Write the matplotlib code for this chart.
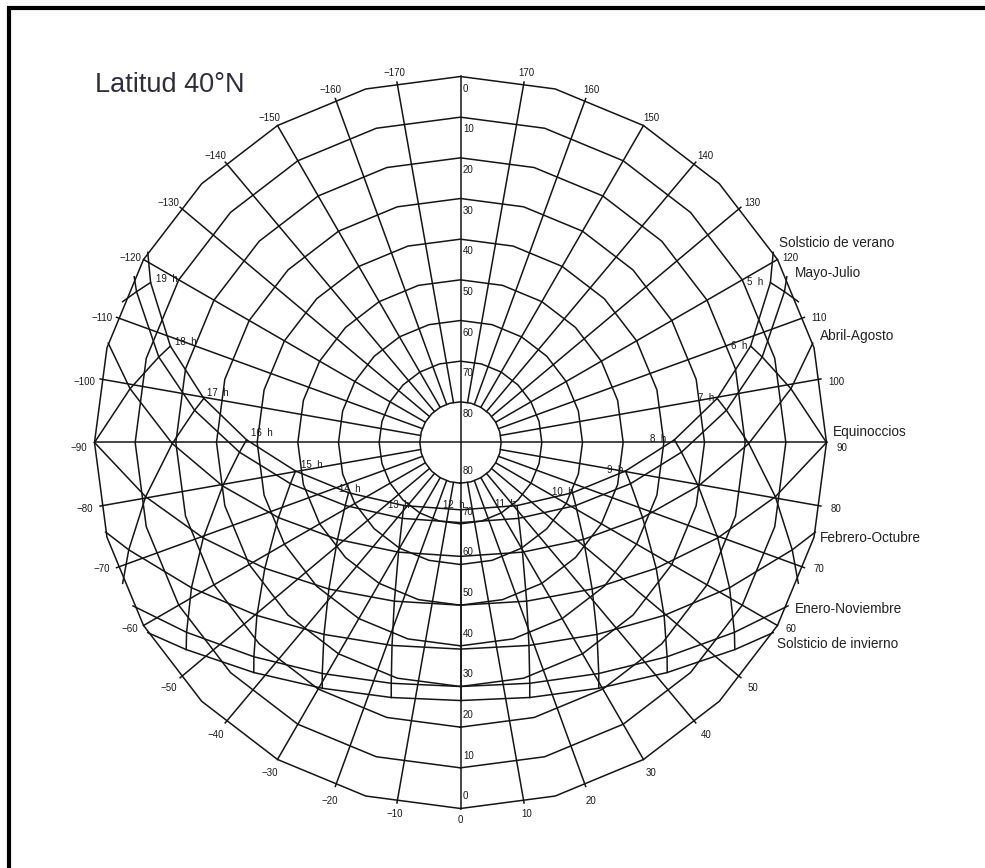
import numpy as np
import matplotlib
matplotlib.use("Agg")
import matplotlib.pyplot as plt

# ---- data -----------------------------------------------------------------
LATITUDE = 40.0
curve_names = ["Solsticio de verano", "Mayo-Julio", "Abril-Agosto", "Equinoccios",
               "Febrero-Octubre", "Enero-Noviembre", "Solsticio de invierno"]
curve_decl = [23.45, 20.3, 12.0, 0.0, -10.8, -20.0, -23.45]   # solar declination, deg
solar_hours = list(range(5, 20))                              # 5 h ... 19 h
altitude_rings = [0, 10, 20, 30, 40, 50, 60, 70, 80]
azimuth_ticks = list(range(-170, 180, 10))

# ---- style ----------------------------------------------------------------
INK = "#151515"
LW = 1.1
SMALL = dict(family="Liberation Sans", fontsize=7.0, color="#1a1a1a")
PX = 366.0 / 90.0                     # pixels per degree of zenith distance
# offsets (pixels, right / up) of the day-curve names from their sunrise points
name_offsets_px = [(6, 9), (8, 4), (7, 7), (6, 10), (4, -6), (7, -3), (4, -11)]
# offsets (pixels, right / up) of the hour labels from the summer-solstice points
hour_offsets_px = [(-15, 1), (-11, 0), (-11, 0), (-16, 1), (-10, 1), (-10, 1), (-12, 2),
                   (-7, 5), (-5, 1), (1, 4), (16, 6), (15, 7), (14, 5), (15, 4), (16, 4)]

phi = np.radians(LATITUDE)


def sun_position(hour, decl):
    """Altitude and azimuth (from south, positive toward the morning side)."""
    H = np.radians(15.0 * (hour - 12.0))
    d = np.radians(decl)
    alt = np.arcsin(np.sin(phi) * np.sin(d) + np.cos(phi) * np.cos(d) * np.cos(H))
    az = np.arctan2(-np.sin(H), np.sin(phi) * np.cos(H) - np.cos(phi) * np.tan(d))
    return np.degrees(alt), np.degrees(az)


def project(alt, az):
    """Equidistant polar projection: zenith distance as radius, south down."""
    z = 90.0 - np.asarray(alt, float)
    a = np.radians(az)
    return z * np.sin(a), -z * np.cos(a)


fig = plt.figure(figsize=(9.85, 8.68), dpi=100)
ax = fig.add_axes([0, 0, 1, 1])
cx, cy = 460.5, 442.5
ax.set_xlim(-cx / PX, (985 - cx) / PX)
ax.set_ylim(-(868 - cy) / PX, cy / PX)
ax.axis("off")

# frame
ax.plot([0.007, 1.0], [0.9905, 0.9905], transform=ax.transAxes, color="black", lw=3.0,
        solid_capstyle="butt")
ax.plot([0.0092, 0.0092], [0.0, 0.9925], transform=ax.transAxes, color="black", lw=3.0,
        solid_capstyle="butt")

ax.text(95 / 985, 1 - 85 / 868, "Latitud 40°N", transform=ax.transAxes,
        family="Liberation Sans", fontsize=19.5, color="#2e2e3a", ha="left", va="center")

# altitude rings (24-sided)
ring_az = np.arange(0, 361, 15)
for alt in altitude_rings:
    x, y = project(np.full(ring_az.shape, alt), ring_az)
    ax.plot(x, y, color=INK, lw=LW)

# azimuth spokes
for az in range(-170, 190, 10):
    if az in (0, 90, -90, 180):
        continue
    x, y = project([80, 0], [az, az])
    ax.plot(x, y, color=INK, lw=LW)
ax.plot([0, 0], [-90, 90], color=INK, lw=LW)
ax.plot([-90, 90], [0, 0], color=INK, lw=LW)

# altitude labels on the meridian
for alt in altitude_rings:
    z = 90 - alt - 3.0
    ax.text(0.6, z, str(alt), ha="left", va="center", **SMALL)
    ax.text(0.6, -z, str(alt), ha="left", va="center", **SMALL)

# azimuth labels around the horizon
for az in azimuth_ticks:
    x, y = project(90 - 93.8, az)
    if abs(az) >= 90:
        y -= 6 / PX
    elif abs(az) <= 10:
        y += 4 / PX
    elif abs(az) in (60, 70):
        y += 4 / PX
    ax.text(x, y, str(az).replace("-", "\u2212"), ha="center", va="center", **SMALL)

# day curves
tan_phi = np.tan(phi)
for name, decl, (dx, dy) in zip(curve_names, curve_decl, name_offsets_px):
    h0 = np.degrees(np.arccos(np.clip(-tan_phi * np.tan(np.radians(decl)), -1, 1))) / 15.0
    rise, sset = 12.0 - h0, 12.0 + h0
    hrs = [rise] + [h for h in solar_hours if rise + 1e-9 < h < sset - 1e-9] + [sset]
    alt, az = sun_position(np.array(hrs), decl)
    alt[0] = alt[-1] = 0.0
    x, y = project(alt, az)
    ax.plot(x, y, color=INK, lw=LW)
    ax.text(x[0] + dx / PX, y[0] + dy / PX, name, ha="left", va="center",
            family="Liberation Sans", fontsize=9.8, color="#222222")

# hour lines, cut at the horizon
for h in solar_hours:
    pts = []
    H = np.radians(15.0 * (h - 12.0))
    horizon_decl = np.degrees(np.arctan(-np.cos(H) / tan_phi))
    alts = [sun_position(h, d)[0] for d in curve_decl]
    for i, d in enumerate(curve_decl):
        if alts[i] >= 0:
            if i > 0 and alts[i - 1] < 0:
                pts.append((0.0, sun_position(h, horizon_decl)[1]))
            pts.append(sun_position(h, d))
        elif i > 0 and alts[i - 1] >= 0:
            pts.append((0.0, sun_position(h, horizon_decl)[1]))
    if len(pts) < 2:
        continue
    alt, az = np.array(pts).T
    x, y = project(alt, az)
    ax.plot(x, y, color=INK, lw=LW)

# hour labels beside the summer-solstice curve
for h, (dx, dy) in zip(solar_hours, hour_offsets_px):
    alt, az = sun_position(h, curve_decl[0])
    x, y = project(alt, az)
    ax.text(x + dx / PX, y + dy / PX, f"{h}  h", ha="center", va="center", **SMALL)

fig.savefig("out.png", dpi=100, facecolor="white")
